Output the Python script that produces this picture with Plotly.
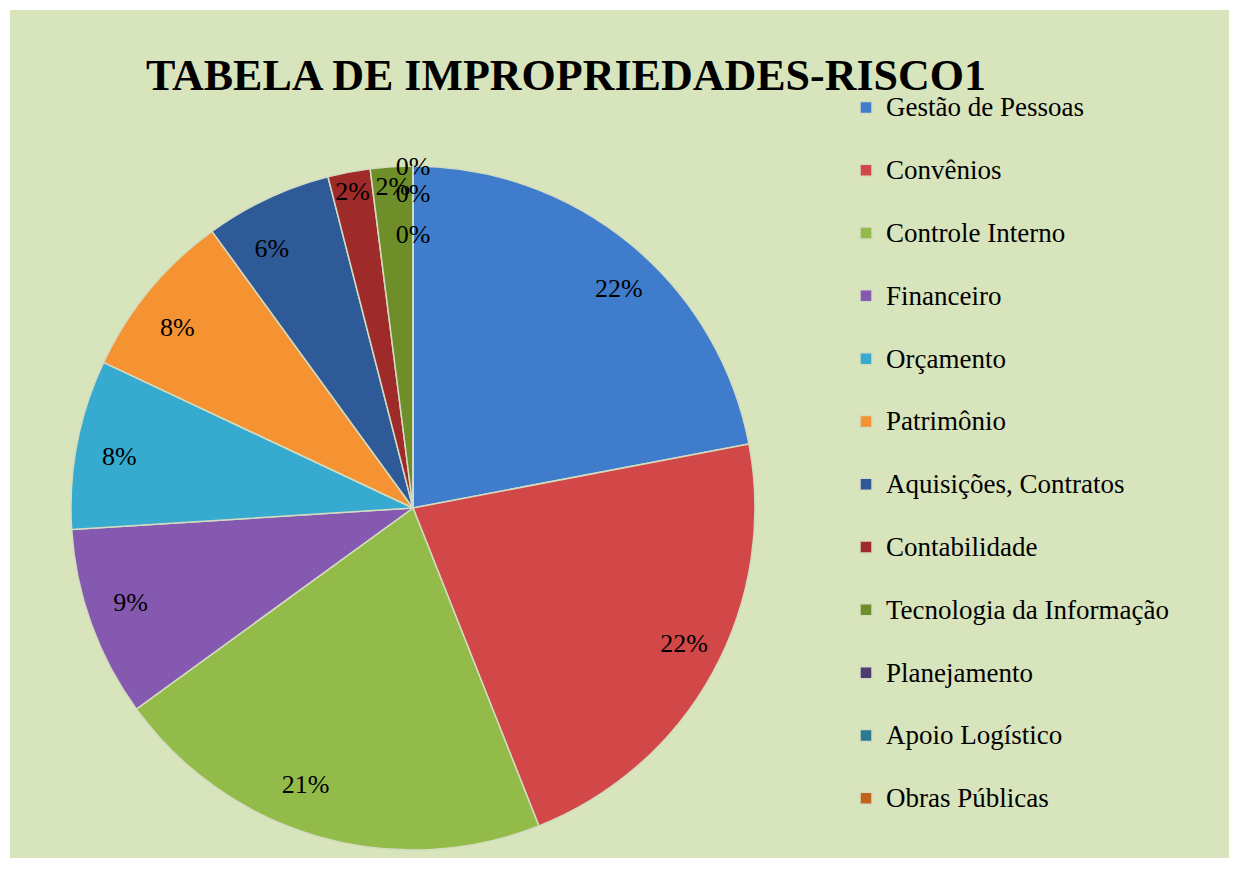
import plotly.graph_objects as go

# --- data -------------------------------------------------------------
categories = [
    "Gestão de Pessoas", "Convênios", "Controle Interno", "Financeiro",
    "Orçamento", "Patrimônio", "Aquisições, Contratos", "Contabilidade",
    "Tecnologia da Informação", "Planejamento", "Apoio Logístico", "Obras Públicas",
]
shares = [22, 22, 21, 9, 8, 8, 6, 2, 2, 0, 0, 0]
colors = [
    "#3F7CCB", "#D24848", "#93BB4A", "#8559B0", "#36AACF", "#F59232",
    "#2E5A98", "#9E2A2A", "#6E8E2A", "#4D3B72", "#2A7A90", "#C0641A",
]

W, H = 1237, 869
BG = "#D8E4BC"
SERIF = "Liberation Serif, Times New Roman, serif"
CX, CY, R = 405, 500, 342          # pie centre / radius in page pixels


def dom(r):
    return dict(x=[(CX - r) / W, (CX + r) / W], y=[1 - (CY + r) / H, 1 - (CY - r) / H])


# legend entries get a blank second line so each entry is as tall as in the reference
legend_labels = [f"<span style='font-size:27px'>{c}</span><br> " for c in categories]
n = len(categories)
big = [v >= 5 for v in shares]

common = dict(labels=legend_labels, values=shares, customdata=categories,
              sort=False, direction="clockwise", rotation=0,
              textinfo="percent", insidetextorientation="horizontal",
              textfont=dict(family=SERIF, size=26, color="black"))

# visible pie: labels of the thin slices only
fig = go.Figure(go.Pie(
    **common,
    marker=dict(colors=colors, line=dict(color="#D3DCC0", width=1.5)),
    textposition=["none" if b else "inside" for b in big[:10]] + ["none", "none"],
    hovertemplate="%{customdata}: %{percent}<extra></extra>",
    domain=dom(R),
))
# transparent pies used only to place the remaining percentage labels
clear = dict(colors=["rgba(0,0,0,0)"] * n, line=dict(width=0))
fig.add_trace(go.Pie(
    **common, marker=clear, showlegend=False, hoverinfo="skip",
    textposition=["none"] * 10 + ["inside", "none"],
    domain=dom(315),
))
fig.add_trace(go.Pie(
    **common, marker=clear, showlegend=False, hoverinfo="skip",
    textposition=["outside" if b else "none" for b in big[:11]] + ["inside"],
    domain=dom(274),
))

fig.update_layout(
    width=W, height=H,
    margin=dict(l=0, r=0, t=0, b=0),
    paper_bgcolor="white",
    title=dict(text="<b>TABELA DE IMPROPRIEDADES-RISCO1</b>", x=558 / W, xanchor="center",
               y=1 - 67 / H, yanchor="middle", yref="container",
               font=dict(family=SERIF, size=44, color="black")),
    legend=dict(x=838 / W, xanchor="left", y=1 - 78 / H, yanchor="top",
                valign="top", bgcolor="rgba(0,0,0,0)",
                font=dict(family=SERIF, size=23, color="black")),
    uniformtext=dict(minsize=26, mode="show"),
    shapes=[dict(type="rect", xref="paper", yref="paper", layer="below",
                 x0=2 / W, x1=1222 / W, y0=1 - 850 / H, y1=1 - 2 / H,
                 fillcolor=BG, line=dict(width=0))],
)

fig.write_html("out.html")
